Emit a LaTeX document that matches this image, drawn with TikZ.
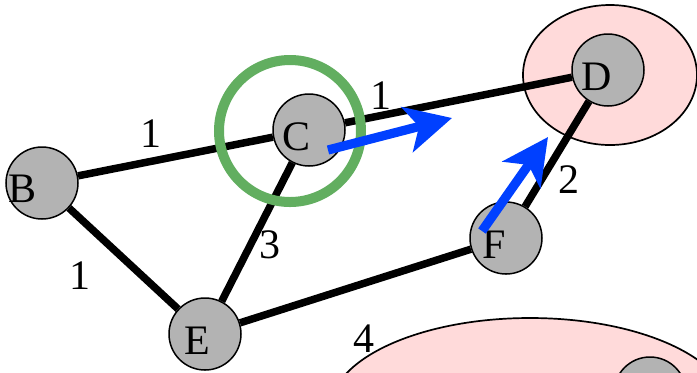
\documentclass[tikz,border=0pt]{standalone}
\usepackage{fontspec}
\setmainfont{Liberation Serif}
\usetikzlibrary{arrows.meta}
\definecolor{nodegray}{RGB}{179,179,179}
\definecolor{pinkfill}{RGB}{255,218,218}
\definecolor{ringgreen}{RGB}{98,174,96}
\definecolor{moveblue}{RGB}{0,64,255}
\begin{document}
\begin{tikzpicture}[x=0.5pt,y=-0.5pt,font=\fontsize{21}{25}\selectfont,
  vtx/.style={circle,draw,line width=0.75pt,fill=nodegray,minimum size=36pt,inner sep=0pt},
  edge/.style={line width=3.75pt},
  blob/.style={draw,fill=pinkfill,line width=0.85pt},
  move/.style={draw=moveblue,line width=4.6pt,-{Stealth[length=23pt,width=23pt,inset=6pt]}}]
\useasboundingbox (0,0) rectangle (697,372); \clip (0,0) rectangle (697,372);
% groups
\draw[blob] (610,75) ellipse [x radius=87, y radius=70];
\draw[blob] (530,410) ellipse [x radius=200, y radius=92];
% vertices
\node[vtx,label={[xshift=-9.5pt,yshift=-3pt]center:B}] (B) at (42,183){};
\node[vtx,label={[xshift=-6pt,yshift=-3.5pt]center:C}] (C) at (309,130){};
\node[vtx,label={[xshift=-5.5pt,yshift=-3.5pt]center:D}] (D) at (608,70){};
\node[vtx,label={[xshift=-4pt,yshift=-3.5pt]center:E}] (E) at (205,334){};
\node[vtx,label={[xshift=-6pt,yshift=-3.5pt]center:F}] (F) at (506,238){};
\node[vtx] (G) at (650,393){};
% weighted edges
\draw[edge] (B)--(C); \draw[edge] (B)--(E); \draw[edge] (C)--(E);
\draw[edge] (C)--(D); \draw[edge] (E)--(F); \draw[edge] (F)--(D);
\node (wBC) at (151,134){1}; \node (wBE) at (80,276){1}; \node (wCE) at (270,245){3};
\node (wCD) at (381,96){1}; \node (wFD) at (569,180){2}; \node (wEG) at (364,339){4};
% focus ring and moves
\draw[ringgreen,line width=5pt] (290,131) circle [radius=71];
\coordinate (mC) at (328,150); \coordinate (mCto) at (452,118);
\coordinate (mF) at (482,231); \coordinate (mFto) at (548,137);
\draw[move] (mC)--(mCto); \draw[move] (mF)--(mFto);
\end{tikzpicture}
\end{document}
